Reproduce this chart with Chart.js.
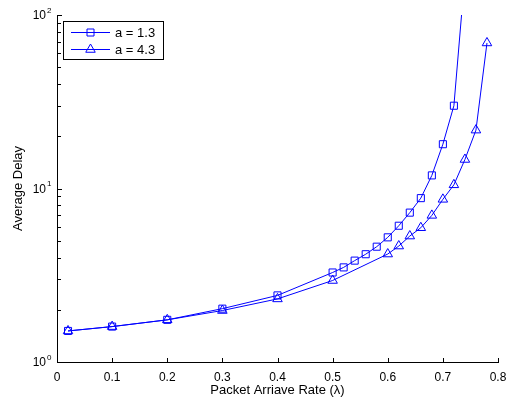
<!DOCTYPE html>
<html lang="en">
<head>
<meta charset="UTF-8" />
<title>Average Delay vs Packet Arrive Rate</title>
<script src="https://cdn.jsdelivr.net/npm/chart.js"></script>
<style>
  html, body { margin: 0; padding: 0; background: #fff; }
</style>
</head>
<body>
<canvas id="chart" width="515" height="403"></canvas>
<script>
// delay curves for the two values of a
const seriesNames = ["a = 1.3", "a = 4.3"];
const rateA13 = [0.02, 0.1, 0.2, 0.3, 0.4, 0.5, 0.52, 0.54, 0.56, 0.58, 0.6, 0.62, 0.64, 0.66, 0.68, 0.7, 0.72, 0.74];
const delayA13 = [1.51, 1.60, 1.75, 2.03, 2.42, 3.28, 3.51, 3.84, 4.18, 4.62, 5.23, 6.1, 7.26, 8.8, 11.9, 18.0, 30.0, 170];
const rateA43 = [0.02, 0.1, 0.2, 0.3, 0.4, 0.5, 0.6, 0.62, 0.64, 0.66, 0.68, 0.7, 0.72, 0.74, 0.76, 0.78];
const delayA43 = [1.51, 1.60, 1.75, 1.98, 2.31, 2.95, 4.19, 4.66, 5.32, 5.94, 7.0, 8.66, 10.5, 14.7, 21.7, 69];

// axis ticks
const xTicks = [0, 0.1, 0.2, 0.3, 0.4, 0.5, 0.6, 0.7, 0.8];
const yTicks = [1, 10, 100];
const yTickExp = ["0", "1", "2"];

const FONT = "'Liberation Sans', Arial, Helvetica, sans-serif";
const BLUE = "#0000ff";

function toPoints(xs, ys) {
  return xs.map((x, i) => ({ x: x, y: ys[i] }));
}

// hollow marker like the ones on the curves
function marker(ctx, style, x, y) {
  ctx.beginPath();
  if (style === "rect") {
    ctx.rect(x - 3.5, y - 3.5, 7, 7);
  } else {
    const r = 5.5;
    ctx.moveTo(x, y - r);
    ctx.lineTo(x + r * 0.866, y + r / 2);
    ctx.lineTo(x - r * 0.866, y + r / 2);
    ctx.closePath();
  }
  ctx.stroke();
}

// inward tick marks, 10^n labels and the boxed legend
const axesDecor = {
  id: "axesDecor",
  afterDraw(chart) {
    const ctx = chart.ctx;
    const area = chart.chartArea;
    const xs = chart.scales.x, ys = chart.scales.y;
    ctx.save();
    ctx.strokeStyle = "#000";
    ctx.lineWidth = 1;

    // x ticks
    ctx.beginPath();
    xTicks.forEach(v => {
      const px = Math.round(xs.getPixelForValue(v)) + 0.5;
      ctx.moveTo(px, area.bottom);
      ctx.lineTo(px, area.bottom - 4);
    });
    ctx.stroke();

    // y major + minor ticks
    ctx.beginPath();
    yTicks.forEach(v => {
      const py = Math.round(ys.getPixelForValue(v)) + 0.5;
      ctx.moveTo(area.left, py);
      ctx.lineTo(area.left + 5, py);
    });
    for (let k = 0; k < yTicks.length - 1; k++) {
      for (let m = 2; m <= 9; m++) {
        const py = Math.round(ys.getPixelForValue(m * yTicks[k])) + 0.5;
        ctx.moveTo(area.left, py);
        ctx.lineTo(area.left + 4, py);
      }
    }
    ctx.stroke();

    // y tick labels with superscript exponent
    ctx.fillStyle = "#000";
    yTicks.forEach((v, i) => {
      const py = ys.getPixelForValue(v);
      ctx.font = "12px " + FONT;
      ctx.textAlign = "right";
      ctx.textBaseline = "middle";
      ctx.fillText("10", area.left - 11, py + 1);
      ctx.font = "8px " + FONT;
      ctx.textAlign = "left";
      ctx.textBaseline = "alphabetic";
      ctx.fillText(yTickExp[i], area.left - 10, py - 2.5);
    });

    // legend
    const lx = area.left + 6, ly = area.top + 6;
    ctx.fillStyle = "#fff";
    ctx.fillRect(lx, ly, 100, 38);
    ctx.strokeRect(lx + 0.5, ly + 0.5, 100, 38);
    const styles = ["rect", "triangle"];
    seriesNames.forEach((name, i) => {
      const y = ly + 11.5 + i * 17;
      ctx.strokeStyle = BLUE;
      ctx.beginPath();
      ctx.moveTo(lx + 8, y);
      ctx.lineTo(lx + 47, y);
      ctx.stroke();
      marker(ctx, styles[i], lx + 27.5, y);
      ctx.fillStyle = "#000";
      ctx.font = "13px " + FONT;
      ctx.textAlign = "left";
      ctx.textBaseline = "middle";
      ctx.fillText(name, lx + 52, y + 0.5);
    });
    ctx.restore();
  }
};

new Chart(document.getElementById("chart"), {
  type: "line",
  data: {
    datasets: [
      {
        label: seriesNames[0],
        data: toPoints(rateA13, delayA13),
        borderColor: BLUE,
        borderWidth: 1,
        pointStyle: "rect",
        pointRadius: 5,
        pointBorderWidth: 1,
        pointBorderColor: BLUE,
        pointBackgroundColor: "rgba(0,0,0,0)",
        tension: 0
      },
      {
        label: seriesNames[1],
        data: toPoints(rateA43, delayA43),
        borderColor: BLUE,
        borderWidth: 1,
        pointStyle: "triangle",
        pointRadius: 5.5,
        pointBorderWidth: 1,
        pointBorderColor: BLUE,
        pointBackgroundColor: "rgba(0,0,0,0)",
        tension: 0
      }
    ]
  },
  options: {
    responsive: false,
    animation: false,
    layout: { padding: { top: 15, right: 17, left: 0, bottom: 0 } },
    plugins: { legend: { display: false }, tooltip: { enabled: false } },
    scales: {
      x: {
        type: "linear",
        min: 0,
        max: 0.8,
        afterBuildTicks: s => { s.ticks = xTicks.map(v => ({ value: v })); },
        afterFit: s => { s.height = 41; },
        ticks: {
          callback: v => (v === 0 ? "0" : v.toFixed(1)),
          font: { family: FONT, size: 12 },
          color: "#000",
          padding: 8,
          maxRotation: 0,
          autoSkip: false
        },
        grid: { display: false, drawTicks: false },
        border: { display: true, color: "#000", width: 1 },
        title: {
          display: true,
          text: "Packet Arriave Rate (λ)",
          font: { family: FONT, size: 13 },
          color: "#000",
          padding: { top: 0, bottom: 5 }
        }
      },
      y: {
        type: "logarithmic",
        min: 1,
        max: 100,
        afterFit: s => { s.width = 57; },
        ticks: { display: false },
        grid: { display: false, drawTicks: false },
        border: { display: true, color: "#000", width: 1 },
        title: {
          display: true,
          text: "Average Delay",
          font: { family: FONT, size: 13 },
          color: "#000",
          padding: { top: 11, bottom: 0 }
        }
      }
    }
  },
  plugins: [axesDecor]
});
</script>
</body>
</html>
